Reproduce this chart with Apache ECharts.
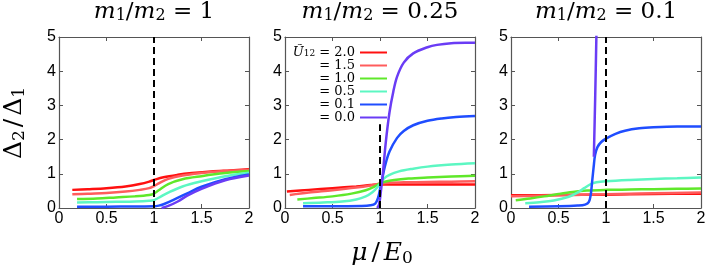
<!DOCTYPE html>
<html><head><meta charset="utf-8">
<script src="https://cdn.jsdelivr.net/npm/echarts@6/dist/echarts.min.js"></script>
<style>html,body{margin:0;padding:0;background:#fff}#c{width:708px;height:269px}</style>
</head><body><div id="c"></div>
<script>
// ---- data ----
const seriesNames = ['2.0', '1.5', '1.0', '0.5', '0.1', '0.0'];
const panelRatios = ['1', '0.25', '0.1'];
const dashX = [1, 1, 1];
const dashTop = [5, 2.45, 5];

// panel 1: m1/m2 = 1
const p1_u20 = [[0.14,0.53],[0.3,0.55],[0.5,0.58],[0.7,0.63],[0.85,0.70],[0.95,0.77],[1.0,0.82],[1.1,0.90],[1.25,0.97],[1.4,1.02],[1.6,1.07],[1.8,1.10],[2.0,1.13]];
const p1_u15 = [[0.14,0.40],[0.3,0.42],[0.5,0.44],[0.7,0.48],[0.85,0.53],[0.95,0.58],[1.0,0.64],[1.05,0.72],[1.15,0.85],[1.3,0.95],[1.5,1.02],[1.75,1.08],[2.0,1.11]];
const p1_u10 = [[0.19,0.26],[0.4,0.28],[0.6,0.31],[0.8,0.34],[0.95,0.38],[1.0,0.42],[1.05,0.52],[1.15,0.70],[1.3,0.84],[1.5,0.93],[1.75,1.02],[2.0,1.08]];
const p1_u05 = [[0.19,0.16],[0.4,0.17],[0.6,0.18],[0.8,0.19],[0.95,0.21],[1.0,0.23],[1.05,0.30],[1.15,0.45],[1.3,0.63],[1.5,0.78],[1.75,0.93],[2.0,1.03]];
const p1_u01 = [[0.19,0.04],[0.5,0.04],[0.8,0.045],[1.0,0.05],[1.05,0.07],[1.1,0.11],[1.2,0.23],[1.35,0.43],[1.5,0.62],[1.75,0.84],[2.0,0.98]];
const p1_u00 = [[1.08,0.0],[1.15,0.06],[1.25,0.19],[1.35,0.36],[1.5,0.56],[1.75,0.81],[2.0,0.95]];

// panel 2: m1/m2 = 0.25
const p2_u20 = [[0.02,0.48],[0.25,0.53],[0.5,0.58],[0.75,0.63],[0.9,0.67],[1.0,0.69],[1.1,0.69],[1.25,0.69],[1.5,0.69],[1.75,0.69],[2.0,0.69]];
const p2_u15 = [[0.05,0.38],[0.25,0.45],[0.5,0.52],[0.75,0.60],[0.9,0.66],[1.0,0.71],[1.1,0.74],[1.25,0.75],[1.5,0.76],[1.75,0.77],[2.0,0.78]];
const p2_u10 = [[0.13,0.25],[0.3,0.29],[0.5,0.34],[0.7,0.42],[0.85,0.52],[0.95,0.64],[1.0,0.72],[1.05,0.77],[1.15,0.82],[1.3,0.86],[1.5,0.89],[1.75,0.92],[2.0,0.94]];
const p2_u05 = [[0.19,0.14],[0.4,0.16],[0.6,0.19],[0.75,0.25],[0.85,0.34],[0.92,0.46],[0.97,0.60],[1.0,0.72],[1.04,0.86],[1.1,0.97],[1.2,1.07],[1.35,1.15],[1.5,1.21],[1.75,1.27],[2.0,1.31]];
const p2_u01 = [[0.19,0.05],[0.5,0.05],[0.8,0.06],[0.9,0.08],[0.95,0.13],[0.98,0.30],[1.0,0.55],[1.02,0.80],[1.05,1.20],[1.1,1.65],[1.18,2.05],[1.25,2.25],[1.35,2.42],[1.5,2.55],[1.65,2.62],[1.8,2.66],[2.0,2.69]];
const p2_u00 = [[0.97,0.0],[0.99,0.1],[1.01,0.5],[1.03,1.0],[1.06,1.9],[1.1,2.8],[1.14,3.4],[1.18,3.84],[1.25,4.25],[1.35,4.52],[1.5,4.70],[1.6,4.77],[1.75,4.82],[1.9,4.83],[2.0,4.83]];

// panel 3: m1/m2 = 0.1
const p3_u20 = [[0.0,0.37],[0.5,0.38],[1.0,0.39],[1.5,0.41],[2.0,0.42]];
const p3_u15 = [[0.0,0.34],[0.5,0.37],[1.0,0.40],[1.5,0.43],[2.0,0.45]];
const p3_u10 = [[0.05,0.23],[0.2,0.28],[0.35,0.34],[0.5,0.41],[0.65,0.47],[0.8,0.51],[1.0,0.53],[1.25,0.54],[1.5,0.55],[1.75,0.56],[2.0,0.57]];
const p3_u05 = [[0.15,0.14],[0.3,0.17],[0.45,0.22],[0.6,0.32],[0.7,0.45],[0.77,0.58],[0.84,0.70],[0.9,0.75],[1.0,0.78],[1.25,0.82],[1.5,0.85],[1.75,0.87],[2.0,0.89]];
const p3_u01 = [[0.19,0.04],[0.5,0.05],[0.7,0.07],[0.78,0.10],[0.82,0.18],[0.84,0.40],[0.855,0.80],[0.87,1.20],[0.885,1.55],[0.91,1.78],[0.95,1.93],[1.0,2.03],[1.1,2.17],[1.2,2.26],[1.35,2.33],[1.5,2.36],[1.75,2.38],[2.0,2.38]];
const p3_u00 = [[0.872,1.5],[0.886,3.2],[0.9,5.2]];

const panels = [
  [p1_u20, p1_u15, p1_u10, p1_u05, p1_u01, p1_u00],
  [p2_u20, p2_u15, p2_u10, p2_u05, p2_u01, p2_u00],
  [p3_u20, p3_u15, p3_u10, p3_u05, p3_u01, p3_u00]
];

// ---- style ----
const colors = ['#ff1010', '#ff5c5c', '#5fe82a', '#5cf7c2', '#1f4dff', '#6a3cf5'];
const gridLeft = [59, 285, 511];
const GW = 190, GT = 37, GH = 171;
const axisColor = '#555';
const SERIF = 'DejaVu Serif';
const SANS = 'Liberation Sans';

const chart = echarts.init(document.getElementById('c'), null, {renderer: 'canvas'});

const grids = gridLeft.map(l => ({left: l, top: GT, width: GW, height: GH, outerBoundsMode: 'none', containLabel: false}));

function axLine() { return {show: true, onZero: false, lineStyle: {color: axisColor, width: 1.2}}; }
function axTick() { return {show: true, inside: true, length: 4, lineStyle: {color: axisColor, width: 1}}; }
function axLabel(show) { return {show: show, margin: 3, color: '#000', fontFamily: SANS, fontSize: 16}; }

const xAxes = [], yAxes = [];
[false, true].forEach(mirror => {
  gridLeft.forEach((l, i) => {
    xAxes.push({type: 'value', gridIndex: i, min: 0, max: 2, interval: 0.5, position: mirror ? 'top' : 'bottom',
      axisLine: axLine(), axisTick: axTick(), axisLabel: axLabel(!mirror), splitLine: {show: false}});
    yAxes.push({type: 'value', gridIndex: i, min: 0, max: 5, interval: 1, position: mirror ? 'right' : 'left',
      axisLine: axLine(), axisTick: axTick(), axisLabel: axLabel(!mirror), splitLine: {show: false}});
  });
});

const series = [];
panels.forEach((curves, i) => {
  curves.forEach((d, k) => {
    const s = {
      type: 'line', name: seriesNames[k], xAxisIndex: i, yAxisIndex: i, data: d,
      showSymbol: false, symbol: 'none', smooth: 0.35, clip: true,
      lineStyle: {width: 2.5, color: colors[k]}, itemStyle: {color: colors[k]},
      emphasis: {disabled: true}, silent: true
    };
    if (k === 0) {
      s.markLine = {silent: true, symbol: ['none', 'none'], label: {show: false},
        lineStyle: {color: '#000', type: [7, 4], width: 2},
        data: [[{coord: [dashX[i], 0]}, {coord: [dashX[i], dashTop[i]]}]]};
    }
    series.push(s);
  });
});

const titleRich = {
  i: {fontFamily: SERIF, fontStyle: 'italic', fontWeight: 'normal', fontSize: 23, lineHeight: 24, color: '#000'},
  s: {fontFamily: SERIF, fontWeight: 'normal', fontSize: 16, lineHeight: 11, verticalAlign: 'bottom', color: '#000'},
  n: {fontFamily: SERIF, fontWeight: 'normal', fontSize: 23, lineHeight: 24, color: '#000'}
};
const titles = panelRatios.map((r, i) => ({
  text: '{i|m}{s|1}{n|/}{i|m}{s|2}{n| = ' + r + '}',
  left: gridLeft[i] + GW / 2, top: 0, textAlign: 'center', padding: 0,
  textStyle: {fontWeight: 'normal', fontFamily: SERIF, rich: titleRich}
}));

const option = {
  animation: false,
  backgroundColor: '#fff',
  title: titles,
  grid: grids,
  xAxis: xAxes,
  yAxis: yAxes,
  legend: {
    show: true, orient: 'vertical', align: 'right', right: 316, top: 41, padding: 5,
    icon: 'rect', itemWidth: 27, itemHeight: 2, itemGap: 0, selectedMode: false,
    data: seriesNames,
    formatter: name => name === '2.0' ? '{u|Ũ}{s|12}{n| = 2.0}' : '{n|= ' + name + '}',
    textStyle: {fontFamily: SERIF, fontSize: 13, lineHeight: 11.8, color: '#000',
      rich: {
        u: {fontFamily: SERIF, fontStyle: 'italic', fontSize: 13, lineHeight: 11.8, color: '#000'},
        s: {fontFamily: SERIF, fontSize: 9, lineHeight: 6, verticalAlign: 'bottom', color: '#000'},
        n: {fontFamily: SERIF, fontSize: 13, lineHeight: 11.8, color: '#000'}
      }}
  },
  graphic: [
    {type: 'text', x: 14, y: 123, rotation: Math.PI / 2, silent: true,
      style: {text: '{d|Δ}{s|2}{n|/}{d|Δ}{s|1}', align: 'center', verticalAlign: 'middle', fill: '#000',
        rich: {
          d: {fontFamily: SERIF, fontSize: 25, lineHeight: 28, fill: '#000'},
          s: {fontFamily: SERIF, fontSize: 17, lineHeight: 13, verticalAlign: 'bottom', fill: '#000'},
          n: {fontFamily: SERIF, fontSize: 25, lineHeight: 28, padding: [0, 3, 0, 3], fill: '#000'}
        }}},
    {type: 'text', x: 382, y: 253, silent: true,
      style: {text: '{i|μ}{n|/}{i|E}{s|0}', align: 'center', verticalAlign: 'middle', fill: '#000',
        rich: {
          i: {fontFamily: SERIF, fontStyle: 'italic', fontSize: 25, lineHeight: 28, fill: '#000'},
          s: {fontFamily: SERIF, fontSize: 17, lineHeight: 13, verticalAlign: 'bottom', fill: '#000'},
          n: {fontFamily: SERIF, fontSize: 25, lineHeight: 28, padding: [0, 4, 0, 4], fill: '#000'}
        }}}
  ],
  series: series
};
chart.setOption(option);
</script></body></html>
